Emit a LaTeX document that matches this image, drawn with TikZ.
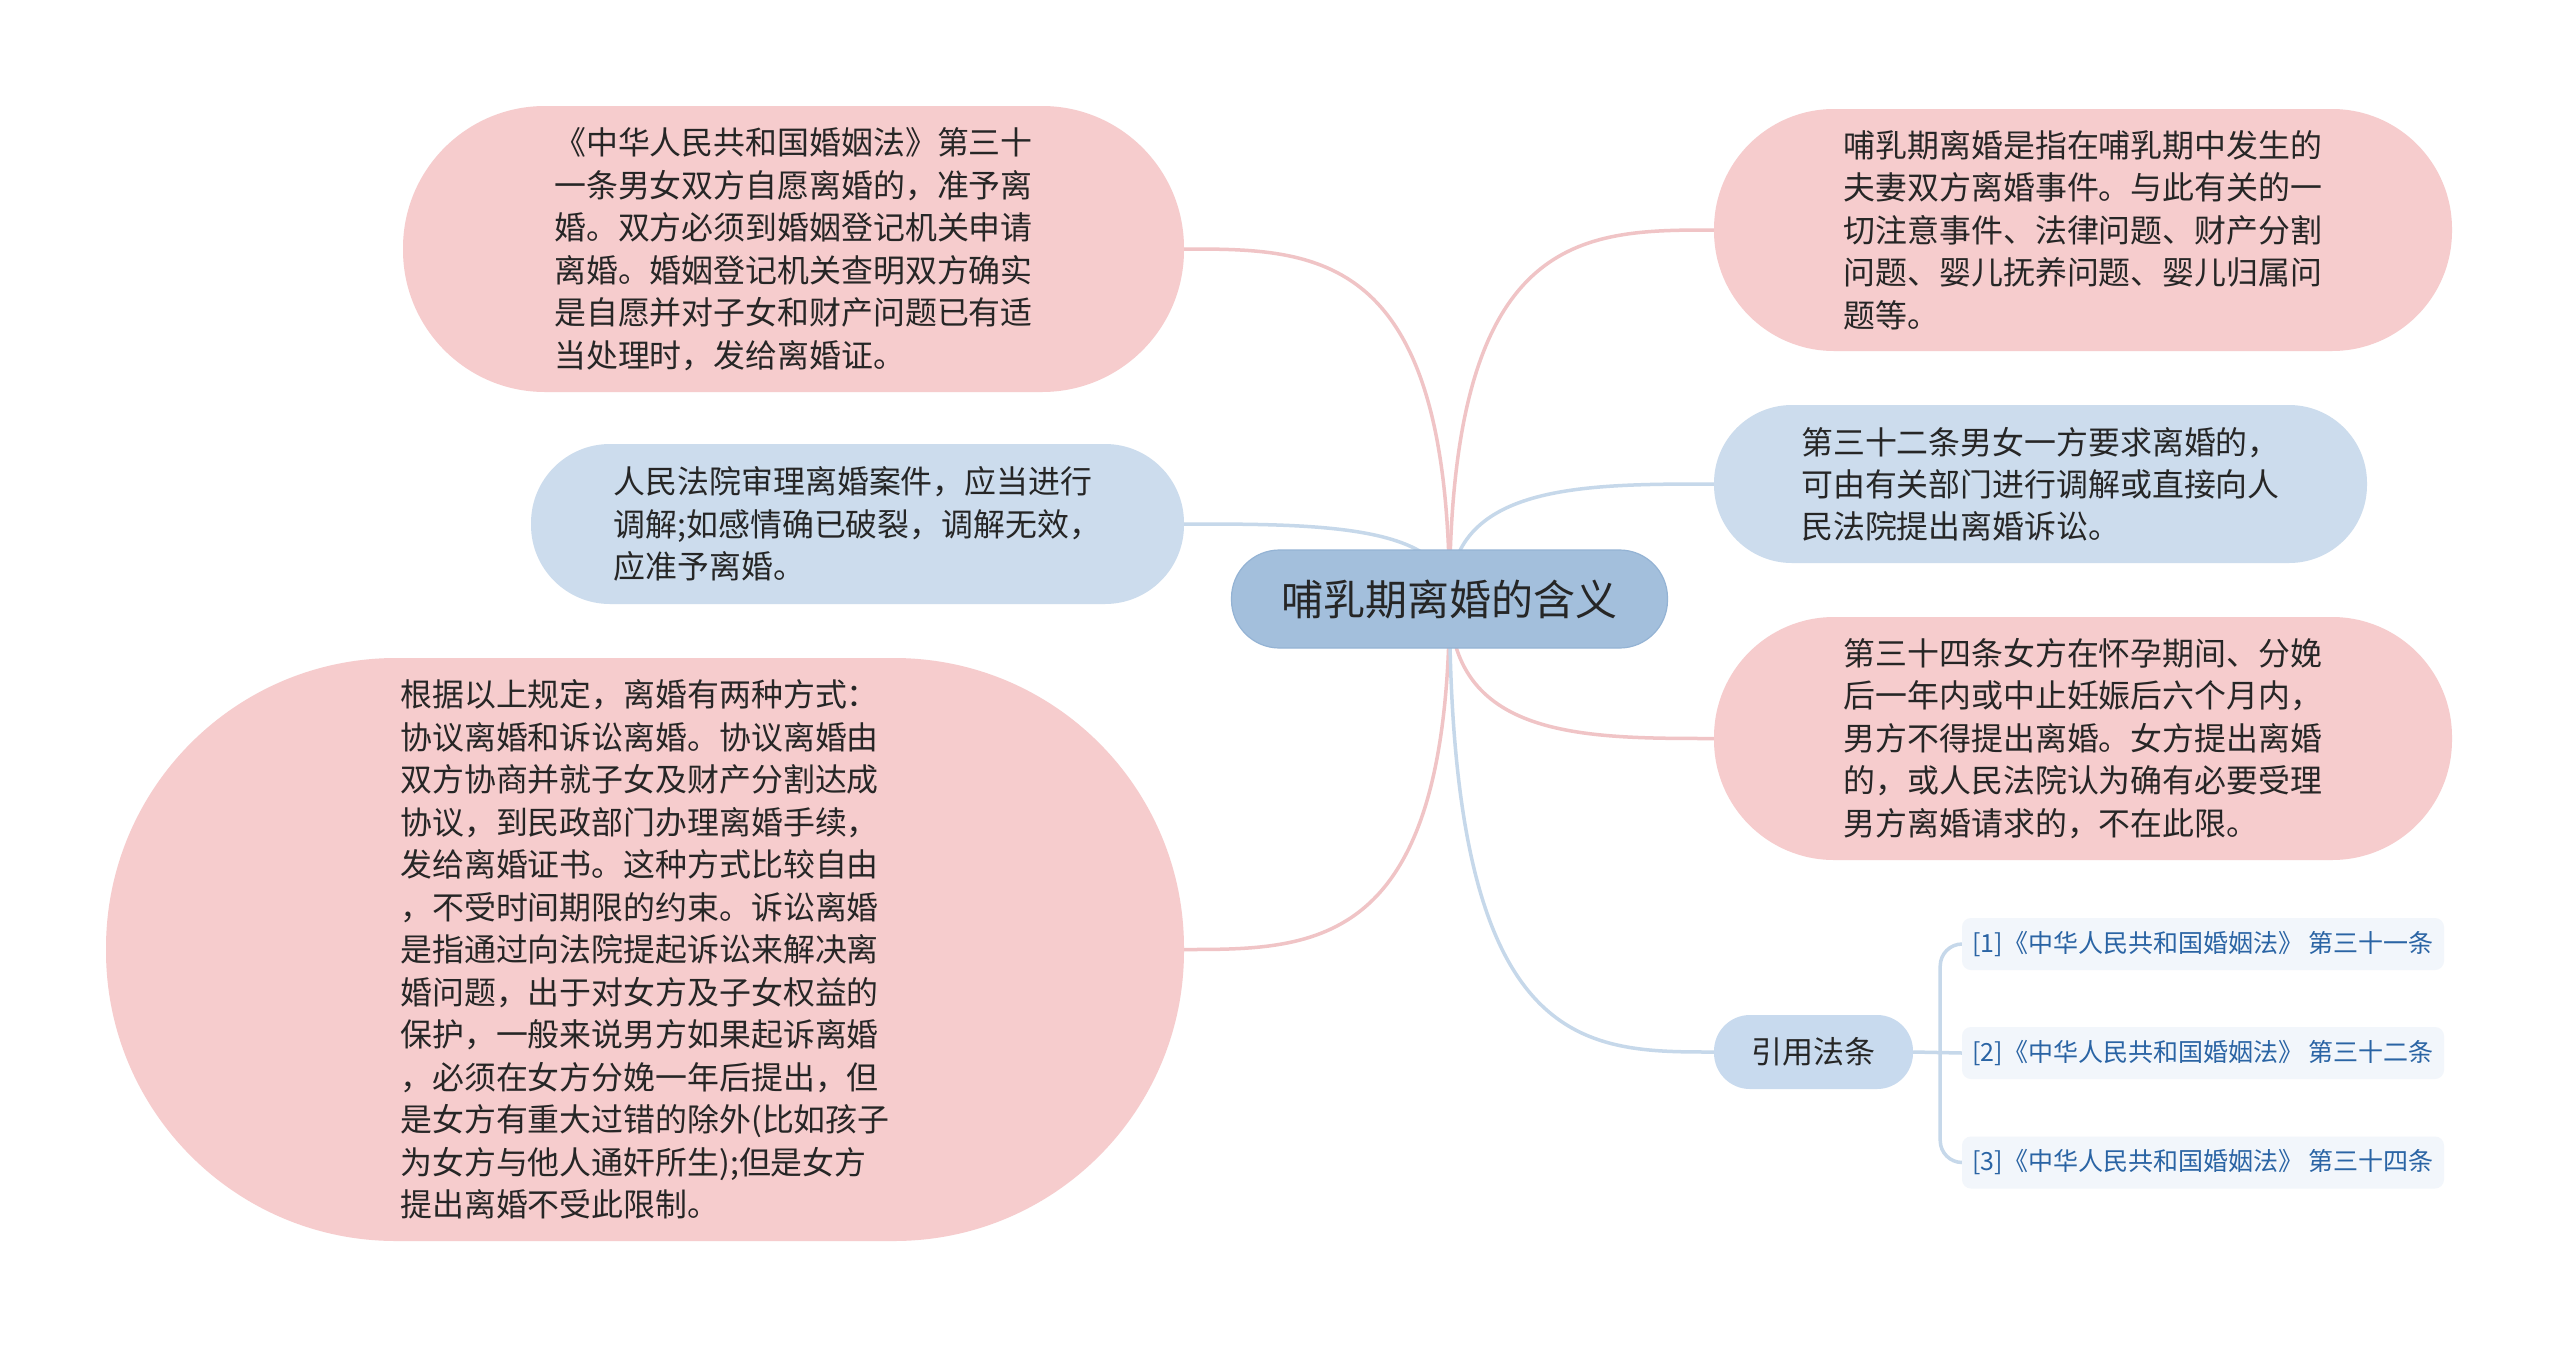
\documentclass[tikz,border=0pt]{standalone}
\usepackage{fontspec}
\newfontfamily\cjk{Noto Sans CJK SC}
\usetikzlibrary{calc,backgrounds}
\definecolor{pinkfill}{HTML}{F6CCCD}
\definecolor{bluefill}{HTML}{CCDCED}
\definecolor{ctrfill}{HTML}{A3BFDC}
\definecolor{ctrdraw}{HTML}{94B3D4}
\definecolor{reffill}{HTML}{C8DAEE}
\definecolor{citefill}{HTML}{F2F6FB}
\definecolor{citetext}{HTML}{2A64A4}
\definecolor{txt}{HTML}{262626}
\definecolor{pinkline}{HTML}{F0C4C6}
\definecolor{blueline}{HTML}{C6D8EA}
\tikzset{
  pinkbox/.style={fill=pinkfill, text=txt, align=left, inner sep=0pt,
    font=\cjk\fontsize{31.9}{42.5}\selectfont},
  bluebox/.style={fill=bluefill, text=txt, align=left, inner sep=0pt,
    font=\cjk\fontsize{31.9}{42.2}\selectfont},
  ctrbox/.style={fill=ctrfill, draw=ctrdraw, line width=1.2pt, text=txt, inner sep=0pt,
    font=\cjk\fontsize{42}{50}\selectfont, minimum width=436pt, minimum height=98pt, rounded corners=48pt},
  refbox/.style={fill=reffill, text=txt, inner sep=0pt,
    font=\cjk\fontsize{31}{38}\selectfont, minimum width=199pt, minimum height=74pt, rounded corners=36pt},
  citebox/.style={fill=citefill, text=citetext, inner sep=0pt,
    font=\cjk\fontsize{25}{30}\selectfont, minimum width=482pt, minimum height=52pt, rounded corners=9pt},
  pinkconn/.style={draw=pinkline, line width=3.5pt},
  blueconn/.style={draw=blueline, line width=3.5pt},
}
\begin{document}
\begin{tikzpicture}[x=1pt,y=-1pt]
\useasboundingbox (0,0) rectangle (2560,1347);

\node[ctrbox] (ctr) at (1449.5,599) {哺乳期离婚的含义};

\node[pinkbox, minimum width=781pt, minimum height=286pt, rounded corners=142pt] (tl) at (793.5,249)
{《中华人民共和国婚姻法》第三十\\一条男女双方自愿离婚的，准予离\\婚。双方必须到婚姻登记机关申请\\离婚。婚姻登记机关查明双方确实\\是自愿并对子女和财产问题已有适\\当处理时，发给离婚证。};

\node[bluebox, minimum width=653pt, minimum height=160pt, rounded corners=79pt] (ml) at (857.5,524)
{人民法院审理离婚案件，应当进行\\调解;如感情确已破裂，调解无效，\\应准予离婚。};

\node[pinkbox, minimum width=1078pt, minimum height=583pt, rounded corners=290pt] (bl) at (645,949.5)
{根据以上规定，离婚有两种方式：\\协议离婚和诉讼离婚。协议离婚由\\双方协商并就子女及财产分割达成\\协议，到民政部门办理离婚手续，\\发给离婚证书。这种方式比较自由\\，不受时间期限的约束。诉讼离婚\\是指通过向法院提起诉讼来解决离\\婚问题，出于对女方及子女权益的\\保护，一般来说男方如果起诉离婚\\，必须在女方分娩一年后提出，但\\是女方有重大过错的除外(比如孩子\\为女方与他人通奸所生);但是女方\\提出离婚不受此限制。};

\node[pinkbox, minimum width=738pt, minimum height=242pt, rounded corners=120pt] (tr) at (2083,230)
{哺乳期离婚是指在哺乳期中发生的\\夫妻双方离婚事件。与此有关的一\\切注意事件、法律问题、财产分割\\问题、婴儿抚养问题、婴儿归属问\\题等。};

\node[bluebox, minimum width=653pt, minimum height=158pt, rounded corners=78pt] (mr) at (2040.5,484)
{第三十二条男女一方要求离婚的，\\可由有关部门进行调解或直接向人\\民法院提出离婚诉讼。};

\node[pinkbox, minimum width=738pt, minimum height=243pt, rounded corners=120pt] (rr) at (2083,738.5)
{第三十四条女方在怀孕期间、分娩\\后一年内或中止妊娠后六个月内，\\男方不得提出离婚。女方提出离婚\\的，或人民法院认为确有必要受理\\男方离婚请求的，不在此限。};

\node[refbox] (ref) at (1813.5,1052) {引用法条};

\node[citebox] (c1) at (2203,944) {[1]《中华人民共和国婚姻法》 第三十一条};
\node[citebox] (c2) at (2203,1053) {[2]《中华人民共和国婚姻法》 第三十二条};
\node[citebox] (c3) at (2203,1162.5) {[3]《中华人民共和国婚姻法》 第三十四条};

\coordinate (bx) at ($(ref.east)+(27,0)$);

\begin{pgfonlayer}{background}
\fill[white] (0,0) rectangle (2560,1347);
\foreach \t/\s in {tl.east/pinkconn, bl.east/pinkconn, ml.east/blueconn,
                   tr.west/pinkconn, rr.west/pinkconn, mr.west/blueconn, ref.west/blueconn}{
  \draw[\s] (ctr.center) .. controls (ctr.center |- \t) and ($(ctr.center |- \t)!0.5!(\t)$) .. (\t);
}
\draw[blueconn] (ref.east) -- (c2.west);
\draw[blueconn, rounded corners=22pt] (bx) |- (c1.west);
\draw[blueconn, rounded corners=22pt] (bx) |- (c3.west);
\end{pgfonlayer}
\end{tikzpicture}
\end{document}
